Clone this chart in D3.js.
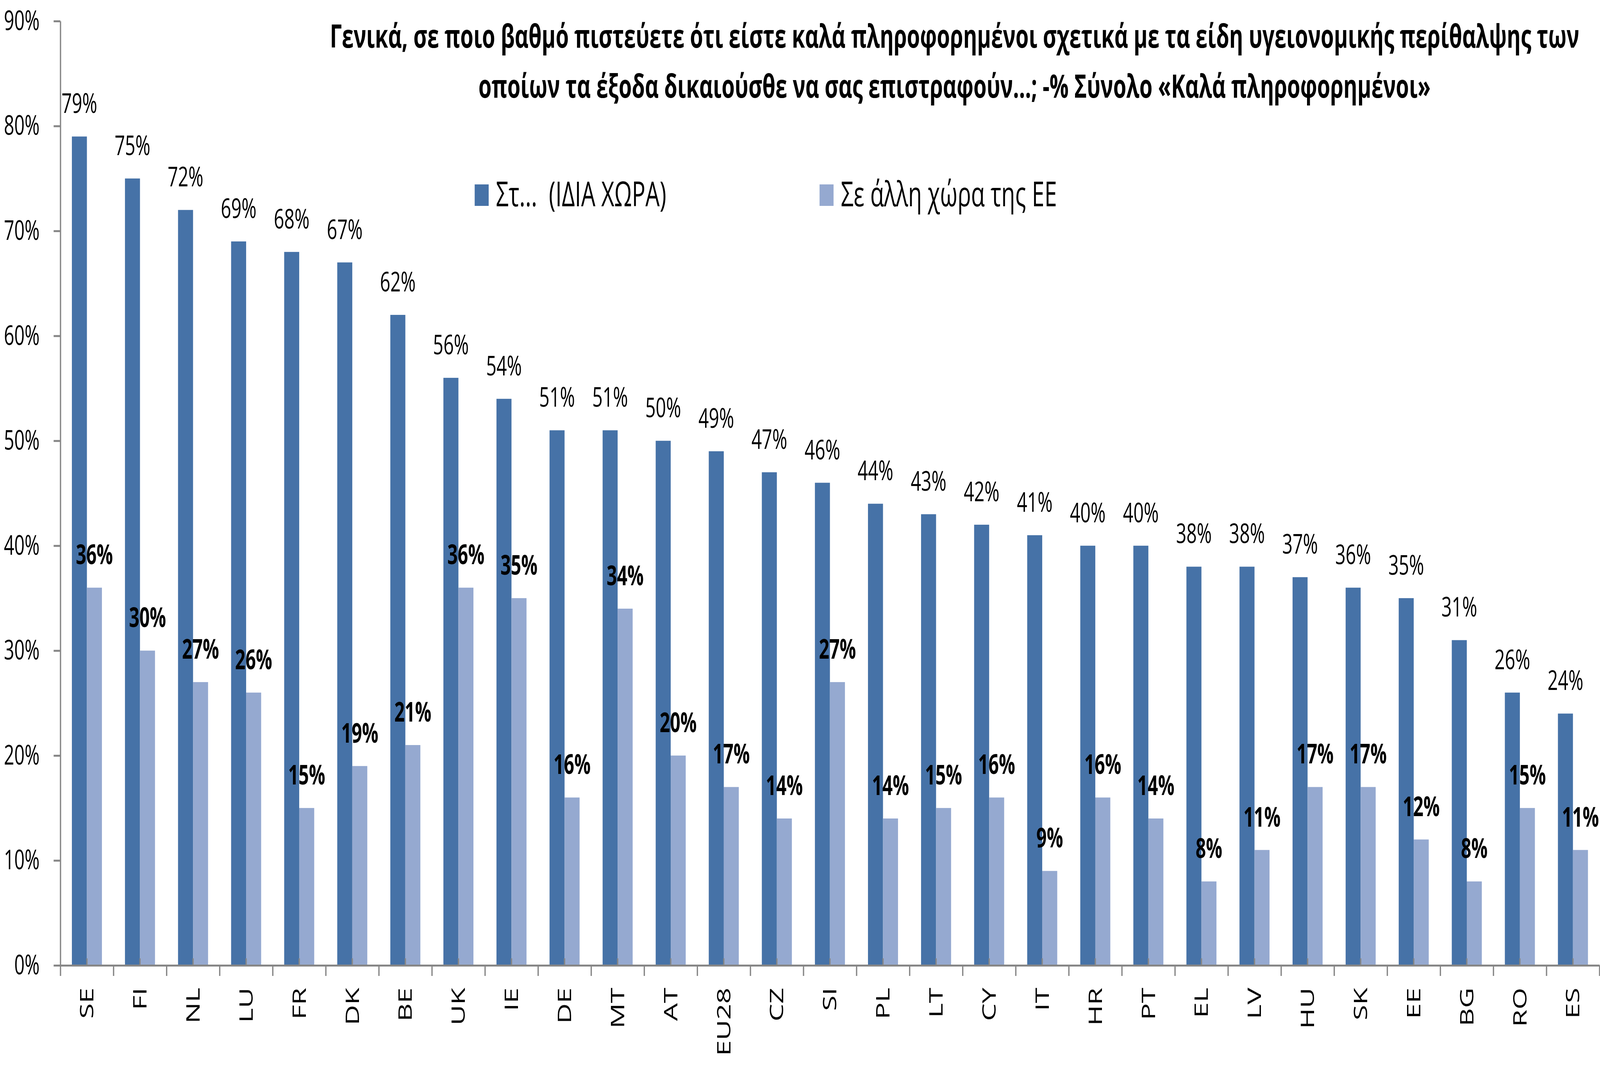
<!DOCTYPE html>
<html>
<head>
<meta charset="utf-8">
<script src="https://cdn.jsdelivr.net/npm/d3@7"></script>
<style>
  html, body { margin: 0; padding: 0; background: #fff; overflow: hidden; }
  svg { display: block; width: 100vw; height: 100vh; }
  text { font-family: "Open Sans", sans-serif; fill: #000; }
</style>
</head>
<body>
<script>
// chart data
var countries = ["SE","FI","NL","LU","FR","DK","BE","UK","IE","DE","MT","AT","EU28","CZ","SI",
                 "PL","LT","CY","IT","HR","PT","EL","LV","HU","SK","EE","BG","RO","ES"];
var ownCountry = [79,75,72,69,68,67,62,56,54,51,51,50,49,47,46,44,43,42,41,40,40,38,38,37,36,35,31,26,24];
var otherEU    = [36,30,27,26,15,19,21,36,35,16,34,20,17,14,27,14,15,16, 9,16,14, 8,11,17,17,12, 8,15,11];
var seriesNames = ["Στ...  (ΙΔΙΑ ΧΩΡΑ)", "Σε άλλη χώρα της ΕΕ"];
var yTickValues = [0,10,20,30,40,50,60,70,80,90];
var titleLines = [
  "Γενικά, σε ποιο βαθμό πιστεύετε ότι είστε καλά πληροφορημένοι σχετικά με τα είδη υγειονομικής περίθαλψης των",
  "οποίων τα έξοδα δικαιούσθε να σας επιστραφούν...; -% Σύνολο «Καλά πληροφορημένοι»"
];

var colors = ["#4672A7", "#95A9D0"];
var axisColor = "#868686";

var W = 6175, H = 2726;
var plot = {left: 233, right: 6173, top: 54, bottom: 2471};

// viewBox so the drawing fills the whole window
var svg = d3.select("body").append("svg")
    .attr("viewBox", "0 0 " + W + " " + H)
    .attr("preserveAspectRatio", "none")
    .attr("width", W)
    .attr("height", H);

// scales
var x = d3.scaleBand()
    .domain(countries)
    .range([plot.left, plot.right])
    .paddingInner(0.434)
    .paddingOuter(0.217);

var xs = d3.scaleBand()
    .domain([0, 1])
    .range([0, x.bandwidth()]);

// boundaries between categories
var xb = d3.scaleLinear()
    .domain([0, countries.length])
    .range([plot.left, plot.right]);

var y = d3.scaleLinear()
    .domain([0, 90])
    .range([plot.bottom, plot.top]);

// title
svg.append("g").selectAll("text")
    .data(titleLines)
  .enter().append("text")
    .attr("x", 3684)
    .attr("y", function(d, i) { return 122 + i * 128; })
    .attr("text-anchor", "middle")
    .style("font-size", "82px")
    .style("font-weight", "bold")
    .text(function(d) { return d; });

// legend
var legendX = [1832, 3163];
var legend = svg.append("g").selectAll("g")
    .data(seriesNames)
  .enter().append("g")
    .attr("transform", function(d, i) { return "translate(" + legendX[i] + ",472)"; });

legend.append("rect")
    .attr("width", 54)
    .attr("height", 55)
    .attr("fill", function(d, i) { return colors[i]; });

legend.append("text")
    .attr("x", 82)
    .attr("y", 56)
    .style("font-size", "87px")
    .style("white-space", "pre")
    .text(function(d) { return d; });

// y axis
var yAxis = svg.append("g")
    .attr("transform", "translate(" + plot.left + ",0)")
    .call(d3.axisLeft(y)
      .tickValues(yTickValues)
      .tickFormat(function(d) { return d + "%"; })
      .tickSize(26)
      .tickSizeOuter(0)
      .tickPadding(54));

yAxis.selectAll("text").style("font-size", "70px").attr("fill", "#000");

// bars
var groups = svg.append("g").selectAll("g")
    .data(countries)
  .enter().append("g")
    .attr("transform", function(d) { return "translate(" + x(d) + ",0)"; });

groups.selectAll("rect")
    .data(function(d, i) { return [ownCountry[i], otherEU[i]]; })
  .enter().append("rect")
    .attr("x", function(d, j) { return xs(j); })
    .attr("width", xs.bandwidth())
    .attr("y", function(d) { return y(d); })
    .attr("height", function(d) { return y(0) - y(d); })
    .attr("fill", function(d, j) { return colors[j]; });

// data labels
groups.selectAll("text")
    .data(function(d, i) { return [ownCountry[i], otherEU[i]]; })
  .enter().append("text")
    .attr("x", function(d, j) { return xs(j) + xs.bandwidth() / 2; })
    .attr("y", function(d) { return y(d) - 60; })
    .attr("text-anchor", "middle")
    .style("font-size", "70px")
    .style("font-weight", function(d, j) { return j === 1 ? "bold" : "normal"; })
    .text(function(d) { return d + "%"; });

// x axis: boundary ticks down
svg.append("g")
    .attr("transform", "translate(0," + plot.bottom + ")")
    .call(d3.axisBottom(xb)
      .tickValues(d3.range(countries.length + 1))
      .tickSize(27)
      .tickSizeOuter(0)
      .tickFormat(""));

// x axis: small ticks up at category centres
var xAxisC = svg.append("g")
    .attr("transform", "translate(0," + plot.bottom + ")")
    .call(d3.axisBottom(x)
      .tickSize(-18)
      .tickSizeOuter(0)
      .tickFormat(""));
xAxisC.select(".domain").remove();

svg.selectAll(".tick line, .domain").attr("stroke", axisColor).attr("stroke-width", 5);

// category labels, rotated
svg.append("g").selectAll("text")
    .data(countries)
  .enter().append("text")
    .attr("transform", function(d) {
      return "translate(" + (x(d) + x.bandwidth() / 2) + "," + (plot.bottom + 57) + ") rotate(-90)";
    })
    .attr("dy", "0.35em")
    .attr("text-anchor", "end")
    .style("font-size", "72px")
    .text(function(d) { return d; });
</script>
</body>
</html>
